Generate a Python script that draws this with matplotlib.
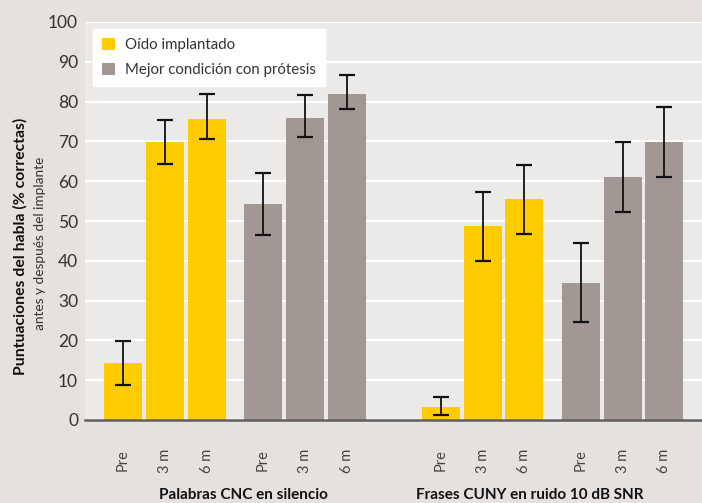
import numpy as np
import matplotlib.pyplot as plt

# data
groups = ['Palabras CNC en silencio', 'Frases CUNY en ruido 10 dB SNR']
times = ['Pre', '3 m', '6 m']
series = ['Oído implantado', 'Mejor condición con prótesis']

# [group][time]
implant_mean = [[14.2, 69.9, 75.7], [3.3, 48.7, 55.5]]
implant_low = [[8.7, 64.3, 70.7], [1.3, 40.0, 46.7]]
implant_high = [[19.8, 75.4, 81.9], [5.8, 57.3, 64.1]]

best_mean = [[54.3, 75.9, 82.0], [34.4, 61.0, 69.8]]
best_low = [[46.5, 71.2, 78.2], [24.7, 52.3, 61.1]]
best_high = [[62.1, 81.6, 86.6], [44.5, 69.8, 78.7]]

colors = ['#ffcc00', '#a19893']

plt.rcParams['font.family'] = ['Lato', 'DejaVu Sans']

fig = plt.figure(figsize=(7.02, 5.03), dpi=100, facecolor='#e4e1de')
ax = fig.add_axes([85 / 702, 83 / 503, 617 / 702, 398 / 503])
ax.set_facecolor('#ebeae8')

group_offset = 7.6
series_offset = 3.35
width = 0.91

tick_pos = []
tick_lab = []
all_data = [(implant_mean, implant_low, implant_high), (best_mean, best_low, best_high)]
for s, (means, lows, highs) in enumerate(all_data):
    for g in range(len(groups)):
        x = g * group_offset + s * series_offset + np.arange(len(times))
        m = np.array(means[g])
        err = [m - np.array(lows[g]), np.array(highs[g]) - m]
        ax.bar(x, m, width=width, color=colors[s], zorder=2,
               label=series[s] if g == 0 else None)
        ax.errorbar(x, m, yerr=err, fmt='none', ecolor='#111111', elinewidth=1.3,
                    capsize=5.5, capthick=1.6, zorder=3)
        tick_pos.extend(x)
        tick_lab.extend(times)

ax.set_xlim(-0.91, 13.85)
ax.set_ylim(0, 100)
ax.set_yticks(np.arange(0, 101, 10))
ax.yaxis.grid(True, color='white', lw=1.6, zorder=0)
ax.set_axisbelow(True)

ax.set_xticks(tick_pos)
ax.set_xticklabels(tick_lab, rotation=90, fontsize=10.5, color='#444444')
ax.tick_params(axis='x', length=0, pad=21)
ax.tick_params(axis='y', length=0, pad=5, labelsize=12.5, labelcolor='#333333')

for side in ['top', 'right', 'left']:
    ax.spines[side].set_visible(False)
ax.spines['bottom'].set_color('#5f5f5f')
ax.spines['bottom'].set_linewidth(1.8)
ax.spines['bottom'].set_zorder(4)

# group labels under the ticks
fig.text(243.5 / 702, 4 / 503, groups[0], ha='center', va='baseline',
         fontsize=11, fontweight='bold', color='#111111')
fig.text(530 / 702, 4 / 503, groups[1], ha='center', va='baseline',
         fontsize=11, fontweight='bold', color='#111111')

# y label in two lines
fig.text(20 / 702, 1 - 246 / 503, 'Puntuaciones del habla (% correctas)', rotation=90,
         ha='center', va='center', fontsize=11.3, fontweight='bold', color='#111111')
fig.text(40 / 702, 1 - 243 / 503, 'antes y después del implante', rotation=90,
         ha='center', va='center', fontsize=9.8, color='#333333')

leg = ax.legend(loc='upper left', bbox_to_anchor=(0.013, 0.982), borderaxespad=0,
                frameon=True, fancybox=False, facecolor='white', edgecolor='white',
                framealpha=1, fontsize=10.8, handlelength=0.85, handleheight=0.85,
                handletextpad=0.7, labelspacing=0.7, borderpad=0.6)
for t in leg.get_texts():
    t.set_color('#333333')

fig.savefig('out.png', dpi=100, facecolor=fig.get_facecolor())
